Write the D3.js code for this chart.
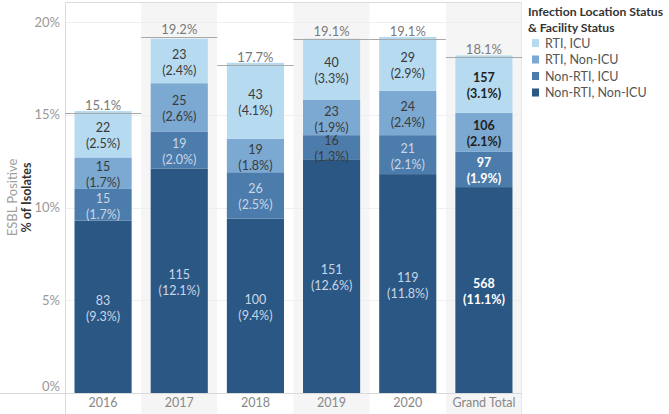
<!DOCTYPE html>
<html>
<head>
<meta charset="utf-8">
<script src="https://cdn.jsdelivr.net/npm/d3@7"></script>
<style>
  html, body { margin: 0; padding: 0; background: #fff; }
  svg { display: block; font-family: Lato, "Open Sans", sans-serif; }
</style>
</head>
<body>
<svg id="chart" width="669" height="414"></svg>
<script>
// ---- data ----
const categories = ["2016", "2017", "2018", "2019", "2020", "Grand Total"];
const seriesNames = ["Non-RTI, Non-ICU", "Non-RTI, ICU", "RTI, Non-ICU", "RTI, ICU"];
const nonRtiNonIcuCount = [83, 115, 100, 151, 119, 568];
const nonRtiNonIcuPct   = [9.3, 12.1, 9.4, 12.6, 11.8, 11.1];
const nonRtiIcuCount    = [15, 19, 26, 16, 21, 97];
const nonRtiIcuPct      = [1.7, 2.0, 2.5, 1.3, 2.1, 1.9];
const rtiNonIcuCount    = [15, 25, 19, 23, 24, 106];
const rtiNonIcuPct      = [1.7, 2.6, 1.8, 1.9, 2.4, 2.1];
const rtiIcuCount       = [22, 23, 43, 40, 29, 157];
const rtiIcuPct         = [2.5, 2.4, 4.1, 3.3, 2.9, 3.1];
const totalPct          = [15.1, 19.2, 17.7, 19.1, 19.1, 18.1];
const yTicks = [0, 5, 10, 15, 20];
const legendTitle = ["Infection Location Status", "& Facility Status"];
const axisTitle = ["ESBL Positive", "% of Isolates"];

// ---- build table ----
const seriesCounts = [nonRtiNonIcuCount, nonRtiIcuCount, rtiNonIcuCount, rtiIcuCount];
const seriesPcts = [nonRtiNonIcuPct, nonRtiIcuPct, rtiNonIcuPct, rtiIcuPct];
const rows = categories.map((c, i) => {
  const r = { cat: c, idx: i };
  seriesNames.forEach((s, k) => { r[s] = seriesPcts[k][i]; });
  return r;
});
const stack = d3.stack().keys(seriesNames)(rows);

const colors = { "Non-RTI, Non-ICU": "#2b5784", "Non-RTI, ICU": "#4c7cab", "RTI, Non-ICU": "#7ca9d2", "RTI, ICU": "#b6dbf1" };

const svg = d3.select("#chart");
const plotLeft = 65, plotRight = 522, plotTop = 2, plotBottom = 393;

const x = d3.scaleBand().domain(categories).range([plotLeft, plotRight]).paddingInner(0).paddingOuter(0);
const barPad = 0.125;
const y = d3.scaleLinear().domain([0, 20]).range([plotBottom, 22]);

// band backgrounds
svg.append("g").selectAll("rect").data(categories).join("rect")
  .attr("x", d => x(d)).attr("y", plotTop)
  .attr("width", x.bandwidth()).attr("height", 414 - plotTop)
  .attr("fill", (d, i) => i % 2 === 1 ? "#f5f5f5" : "#fff");

// gridlines
svg.append("g").selectAll("line").data(yTicks.filter(t => t > 0)).join("line")
  .attr("x1", plotLeft).attr("x2", plotRight)
  .attr("y1", d => Math.round(y(d)) + 0.5).attr("y2", d => Math.round(y(d)) + 0.5)
  .attr("stroke", "#efefef").attr("stroke-width", 1);

// borders
svg.append("line").attr("x1", plotLeft).attr("x2", plotRight).attr("y1", plotTop + 0.5).attr("y2", plotTop + 0.5).attr("stroke", "#dcdcdc");
svg.append("line").attr("x1", plotLeft + 0.5).attr("x2", plotLeft + 0.5).attr("y1", plotTop).attr("y2", 414).attr("stroke", "#dcdcdc");
svg.append("line").attr("x1", plotRight - 0.5).attr("x2", plotRight - 0.5).attr("y1", plotTop).attr("y2", 414).attr("stroke", "#e6e6e6");

// bars
const bw = x.bandwidth() * (1 - 2 * barPad);
const gSeries = svg.append("g").selectAll("g").data(stack).join("g")
  .attr("fill", d => colors[d.key]);
gSeries.selectAll("rect").data(d => d).join("rect")
  .attr("x", d => x(d.data.cat) + x.bandwidth() * barPad)
  .attr("width", bw)
  .attr("y", d => y(d[1]))
  .attr("height", d => y(d[0]) - y(d[1]));

// x axis line
svg.append("line").attr("x1", 0).attr("x2", plotRight).attr("y1", plotBottom + 0.5).attr("y2", plotBottom + 0.5).attr("stroke", "#d9d9d9");

// segment labels
const lightSeries = ["RTI, Non-ICU", "RTI, ICU"];
stack.forEach((layer, k) => {
  layer.forEach((d, i) => {
    const mid = (y(d[0]) + y(d[1])) / 2;
    const h = y(d[0]) - y(d[1]);
    const isTotal = categories[i] === "Grand Total";
    const dark = lightSeries.includes(layer.key) || h < 28;
    const fill = dark ? (isTotal ? "#1f1f1f" : "#3a3a3a") : (isTotal ? "#ffffff" : "#c9d6e6");
    const cx = x(categories[i]) + x.bandwidth() / 2;
    const t = svg.append("text")
      .attr("text-anchor", "middle")
      .attr("font-size", 12.5)
      .attr("font-weight", isTotal ? "bold" : "normal")
      .attr("fill", fill);
    t.append("tspan").attr("x", cx).attr("y", mid - 2).text(seriesCounts[k][i]);
    t.append("tspan").attr("x", cx).attr("y", mid + 14).text("(" + seriesPcts[k][i].toFixed(1) + "%)");
  });
});

// total reference lines + labels
const gTot = svg.append("g");
categories.forEach((c, i) => {
  const yy = Math.round(y(totalPct[i])) + 0.5;
  gTot.append("line").attr("x1", x(c)).attr("x2", x(c) + x.bandwidth())
    .attr("y1", yy).attr("y2", yy).attr("stroke", "#a8a8a8").attr("stroke-width", 1);
  gTot.append("text").attr("x", x(c) + x.bandwidth() / 2).attr("y", yy - 4)
    .attr("text-anchor", "middle").attr("font-size", 13).attr("fill", "#7a7a7a")
    .text(totalPct[i].toFixed(1) + "%");
});

// y axis
const yAxis = d3.axisLeft(y).tickValues(yTicks).tickFormat(d => d + "%").tickSize(0).tickPadding(5);
const gy = svg.append("g").attr("transform", `translate(${plotLeft},0)`).call(yAxis);
gy.select(".domain").remove();
gy.selectAll("text").attr("font-size", 13).attr("fill", "#999").attr("font-family", "Lato, sans-serif");
gy.selectAll("text").filter(d => d === 0).attr("dy", "-0.2em");

// x axis
const xAxis = d3.axisBottom(x).tickSize(0).tickPadding(5);
const gx = svg.append("g").attr("transform", `translate(0,${plotBottom})`).call(xAxis);
gx.select(".domain").remove();
gx.selectAll("text").attr("font-size", 12.5).attr("fill", "#888").attr("font-family", "Lato, sans-serif");

// axis titles
const cy = (plotTop + plotBottom) / 2;
svg.append("text").attr("transform", `translate(17,${cy}) rotate(-90)`).attr("text-anchor", "middle")
  .attr("font-size", 13).attr("fill", "#a0a0a0").text(axisTitle[0]);
svg.append("text").attr("transform", `translate(31,${cy}) rotate(-90)`).attr("text-anchor", "middle")
  .attr("font-size", 12.5).attr("font-weight", "bold").attr("fill", "#333").text(axisTitle[1]);

// legend
const lg = svg.append("g").attr("transform", "translate(528,0)");
legendTitle.forEach((t, i) => {
  lg.append("text").attr("x", 0).attr("y", 16 + i * 16).attr("font-size", 12.2).attr("font-weight", "bold").attr("fill", "#333").text(t);
});
const legendOrder = seriesNames.slice().reverse();
legendOrder.forEach((s, i) => {
  const cyy = 43 + i * 16.5;
  lg.append("rect").attr("x", 4).attr("y", cyy - 4).attr("width", 7).attr("height", 8).attr("fill", colors[s]);
  lg.append("text").attr("x", 17).attr("y", cyy + 4.5).attr("font-size", 12.5).attr("fill", "#555").text(s);
});
</script>
</body>
</html>
